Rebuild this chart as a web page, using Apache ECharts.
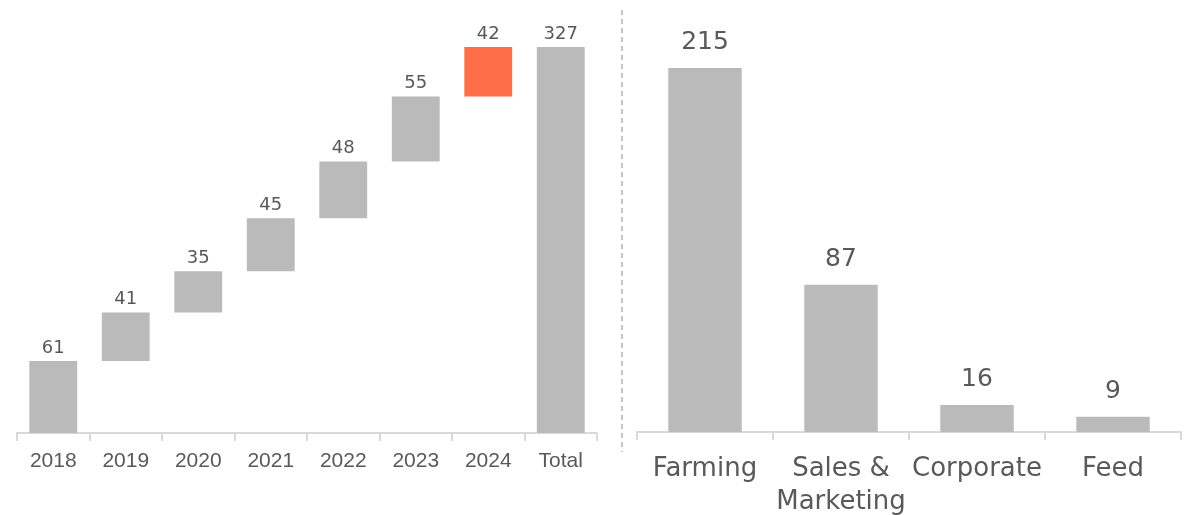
<!DOCTYPE html>
<html>
<head>
    <meta charset="utf-8">
    <title>Waterfall and split</title>
    <script src="https://cdn.jsdelivr.net/npm/echarts@6/dist/echarts.min.js"></script>
    <style>
        html, body { margin: 0; padding: 0; background: #fff; }
        #chart1 { width: 1194px; height: 515px; }
    </style>
</head>
<body>
<div id="chart1"></div>
<script type="text/javascript">
    // left: yearly increments and the total
    var years = ['2018', '2019', '2020', '2021', '2022', '2023', '2024', 'Total'];
    var yearValues = [61, 41, 35, 45, 48, 55, 42, 327];
    // right: split of the total
    var segments = ['Farming', 'Sales &\nMarketing', 'Corporate', 'Feed'];
    var segmentValues = [215, 87, 16, 9];

    // invisible base for the waterfall steps
    var bases = [];
    var run = 0;
    for (var i = 0; i < yearValues.length; i++) {
        if (years[i] === 'Total') {
            bases.push(0);
        } else {
            bases.push(run);
            run += yearValues[i];
        }
    }

    var font = 'DejaVu Sans';
    var textColor = '#595959';
    var lineColor = '#d9d9d9';
    var grey = '#bababa';
    var orange = '#ff6f47';

    var myChart = echarts.init(document.getElementById('chart1'));

    var option = {
        animation: false,
        textStyle: { fontFamily: font },
        grid: [
            { left: 17, right: 597, top: 47, bottom: 82, outerBoundsMode: 'none', containLabel: false },
            { left: 637, right: 13, top: 68, bottom: 83, outerBoundsMode: 'none', containLabel: false }
        ],
        xAxis: [{
            gridIndex: 0,
            type: 'category',
            data: years,
            axisLine: { lineStyle: { color: lineColor, width: 2 } },
            axisTick: { show: true, length: 8, lineStyle: { color: lineColor, width: 2 } },
            axisLabel: { color: textColor, fontSize: 21, margin: 18, fontFamily: 'Liberation Sans' }
        }, {
            gridIndex: 1,
            type: 'category',
            data: segments,
            axisLine: { lineStyle: { color: lineColor, width: 2 } },
            axisTick: { show: true, length: 8, lineStyle: { color: lineColor, width: 2 } },
            axisLabel: { color: textColor, fontSize: 26, margin: 21, lineHeight: 33, fontFamily: font, interval: 0 }
        }],
        yAxis: [{
            gridIndex: 0,
            type: 'value',
            min: 0,
            max: 327,
            show: false
        }, {
            gridIndex: 1,
            type: 'value',
            min: 0,
            max: 215,
            show: false
        }],
        series: [{
            type: 'bar',
            xAxisIndex: 0,
            yAxisIndex: 0,
            stack: 'wf',
            data: bases,
            barWidth: '66%',
            itemStyle: { color: 'transparent' },
            silent: true
        }, {
            type: 'bar',
            xAxisIndex: 0,
            yAxisIndex: 0,
            stack: 'wf',
            barWidth: '66%',
            data: yearValues.map(function (v, i) {
                return { value: v, itemStyle: { color: years[i] === '2024' ? orange : grey } };
            }),
            label: {
                show: true,
                position: 'top',
                distance: 4,
                color: textColor,
                fontSize: 18,
                fontFamily: font
            }
        }, {
            type: 'bar',
            xAxisIndex: 1,
            yAxisIndex: 1,
            data: segmentValues,
            barWidth: '54%',
            itemStyle: { color: grey },
            label: {
                show: true,
                position: 'top',
                distance: 13,
                color: textColor,
                fontSize: 25,
                fontFamily: font
            }
        }],
        graphic: [{
            type: 'line',
            shape: { x1: 622, y1: 10, x2: 622, y2: 452 },
            style: { stroke: '#8c8c8c', lineWidth: 1, lineDash: [5, 4] }
        }]
    };

    myChart.setOption(option);
</script>
</body>
</html>
